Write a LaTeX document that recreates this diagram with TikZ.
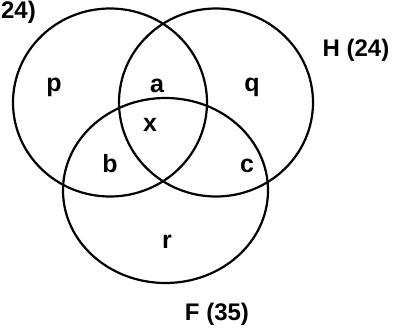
\documentclass[tikz,border=0pt]{standalone}
\usepackage{fontspec}
\setmainfont{Liberation Sans}
\usepackage{tikz}
\usetikzlibrary{positioning}
\tikzset{
  vnset/.style={line width=2.2pt, draw=black},
  vnlabel/.style={font=\fontsize{25}{27}\selectfont\bfseries, anchor=base, inner sep=0pt},
  vnname/.style={vnlabel, font=\fontsize{24}{26}\selectfont\bfseries},
}

\begin{document}
\begin{tikzpicture}[x=1pt, y=-1pt]
    \useasboundingbox (0,0) rectangle (393,331);
    % Conjuntos
    \draw[vnset] (110,102.5) ellipse [x radius=97, y radius=94];
    \draw[vnset] (216,102.5) ellipse [x radius=97, y radius=94];
    \draw[vnset] (165.5,190.5) ellipse [x radius=102.5, y radius=92.5];
    % Regioes
    \node[vnlabel] (p) at (54, 92) {p};
    \node[vnlabel] (a) at (157, 93) {a};
    \node[vnlabel] (q) at (252, 92) {q};
    \node[vnlabel] (x) at (150, 132) {x};
    \node[vnlabel] (b) at (110, 172) {b};
    \node[vnlabel] (c) at (247, 172) {c};
    \node[vnlabel] (r) at (167, 248) {r};
    % Nomes dos conjuntos
    \node[vnname, anchor=base east] (g) at (36, 19) {24)};
    \node[vnname] (h) at (356, 57) {H (24)};
    \node[vnname] (f) at (217, 320) {F (35)};
\end{tikzpicture}
\end{document}
